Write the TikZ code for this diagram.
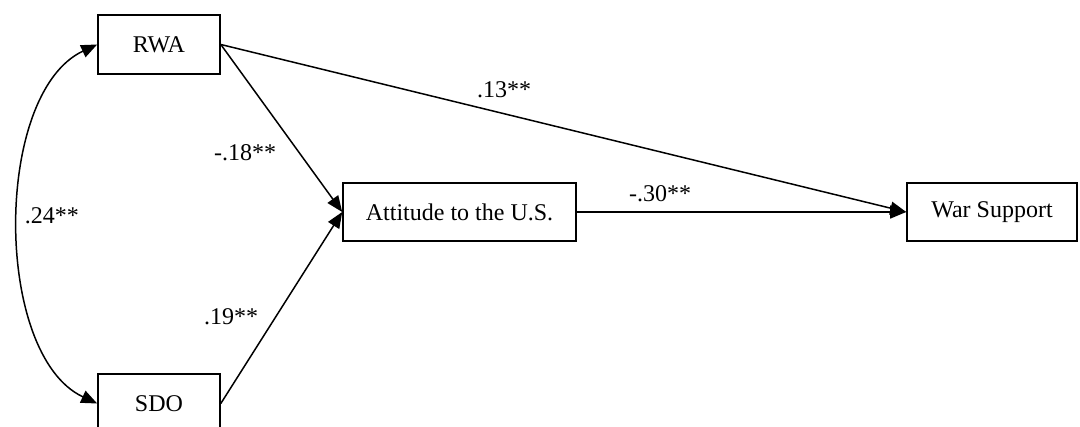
\documentclass[tikz,border=0pt]{standalone}
\usepackage{fontspec}
\setmainfont{Liberation Serif}
\usepackage{tikz}
\usetikzlibrary{arrows.meta, positioning}

\begin{document}
\begin{tikzpicture}[
    x=0.5pt, y=0.5pt,
    block/.style={draw, line width=0.8pt, minimum width=61pt, minimum height=29.5pt, align=center, inner sep=0pt, font=\fontsize{12}{14}\selectfont},
    arrow/.style={-{Triangle[length=8pt, width=6.5pt]}, line width=0.75pt},
    coef/.style={font=\fontsize{12}{14}\selectfont, inner sep=0pt}
]
    \useasboundingbox (0,0) rectangle (1080,427);

    % Predictors
    \node[block] (rwa) at (159,382.5) {RWA};
    \node[block] (sdo) at (159,23.5) {SDO};

    % Mediator
    \node[block, minimum width=116.5pt, minimum height=29pt] (att) at (459.5,215) {Attitude to the U.S.};

    % Outcome
    \node[block, minimum width=85pt, minimum height=29pt] (war) at (992,215) {War Support};

    % Paths
    \draw[arrow] (rwa.east) -- (att.west);
    \draw[arrow] (sdo.east) -- (att.west);
    \draw[arrow] (att.east) -- (war.west);
    \draw[arrow] (rwa.east) -- (war.west);

    % Correlation
    \draw[arrow, {Triangle[length=8pt, width=6.5pt]}-{Triangle[length=8pt, width=6.5pt]}]
        (rwa.west) to[out=205, in=155, looseness=0.82] (sdo.west);

    % Coefficients
    \node[coef] (c13) at (504,337) {.13**};
    \node[coef] (c18) at (245,274) {-.18**};
    \node[coef] (c24) at (52,211) {.24**};
    \node[coef] (c19) at (231,110) {.19**};
    \node[coef] (c30) at (660,233) {-.30**};

\end{tikzpicture}
\end{document}
